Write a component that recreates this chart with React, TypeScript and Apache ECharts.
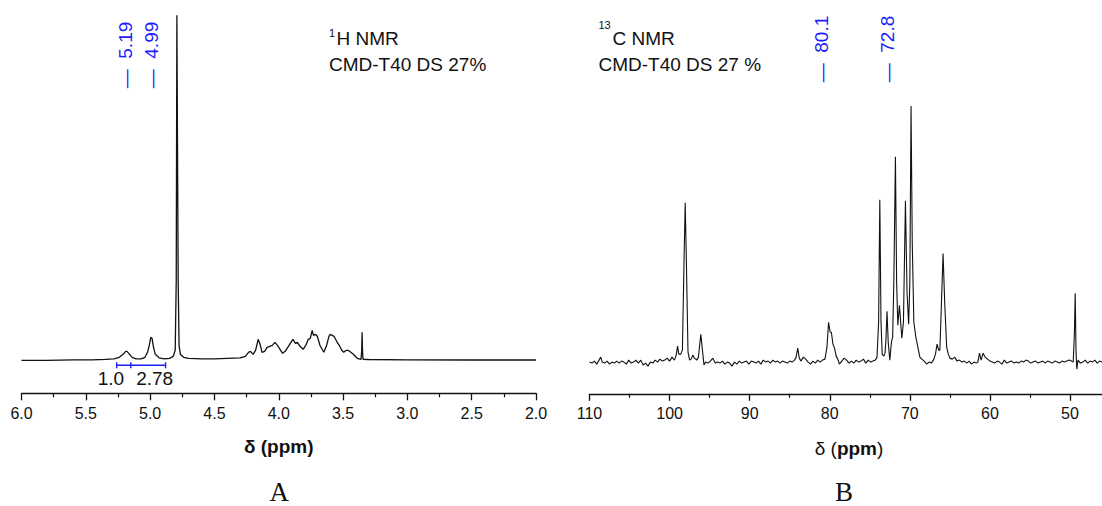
import React, { useEffect, useRef } from "react";
import * as echarts from "echarts";

// ---------- 1H NMR spectrum (panel A) ----------
const hPpm = [
  6.0, 5.8, 5.6, 5.45, 5.35, 5.28, 5.24, 5.21, 5.19, 5.18, 5.16, 5.14, 5.11, 5.07, 5.04, 5.02, 5.005, 4.995,
  4.985, 4.975, 4.96, 4.93, 4.89, 4.85, 4.82, 4.805, 4.797, 4.792, 4.787, 4.782, 4.775, 4.765, 4.74, 4.7,
  4.6, 4.5, 4.4, 4.3, 4.26, 4.235, 4.22, 4.2, 4.18, 4.16, 4.145, 4.13, 4.11, 4.09, 4.07, 4.05, 4.03, 4.01,
  3.99, 3.97, 3.95, 3.93, 3.91, 3.89, 3.87, 3.855, 3.835, 3.81, 3.79, 3.77, 3.755, 3.74, 3.73, 3.715, 3.7,
  3.68, 3.65, 3.63, 3.61, 3.6, 3.585, 3.57, 3.55, 3.53, 3.51, 3.495, 3.475, 3.46, 3.44, 3.42, 3.39, 3.36,
  3.355, 3.352, 3.349, 3.345, 3.3, 3.0, 2.5, 2.0,
];
const hInt = [
  0, 0, 0.5, 0.5, 1, 1.5, 3, 6, 9, 9, 6, 3, 1.5, 1.5, 3, 8, 16, 23,
  22, 14, 6, 2.5, 1.5, 2, 4, 10, 80, 345, 345, 80, 15, 6, 3, 2,
  1.5, 1.5, 2, 2.5, 4, 8, 9, 6, 10, 21, 16, 8, 9, 13, 14, 15, 18, 15,
  11, 7, 9, 13, 17, 21, 17, 18, 14, 11, 15, 21, 22, 30, 25, 26, 24,
  15, 8, 14, 24, 26, 25, 24, 19, 15, 10, 8, 10, 10, 8, 6, 2, 1,
  10, 28, 10, 1, 0.8, 0.5, 0.3, 0.3,
];

// ---------- 13C NMR spectrum (panel B) ----------
const cPpm = [
  110.0, 109.7, 109.4, 109.1, 108.8, 108.6, 108.4, 108.1, 107.8, 107.5, 107.2, 106.9, 106.6, 106.3, 106.0,
  105.7, 105.4, 105.1, 104.8, 104.5, 104.2, 103.9, 103.6, 103.3, 103.0, 102.7, 102.4, 102.1, 101.8, 101.5,
  101.2, 100.9, 100.6, 100.3, 100.0, 99.7, 99.4, 99.2, 99.0, 98.85, 98.6, 98.4, 98.2, 98.05, 97.9, 97.7,
  97.5, 97.3, 97.1, 96.9, 96.6, 96.4, 96.1, 95.9, 95.7, 95.5, 95.2, 94.9, 94.6, 94.3, 94.0, 93.7, 93.4,
  93.1, 92.8, 92.5, 92.2, 91.9, 91.6, 91.3, 91.0, 90.7, 90.4, 90.1, 89.8, 89.5, 89.2, 88.9, 88.6, 88.3,
  88.0, 87.7, 87.4, 87.1, 86.8, 86.5, 86.2, 85.9, 85.6, 85.3, 85.0, 84.7, 84.4, 84.2, 84.0, 83.8, 83.6,
  83.3, 83.0, 82.7, 82.4, 82.1, 81.8, 81.5, 81.2, 80.9, 80.6, 80.35, 80.15, 79.95, 79.8, 79.6, 79.4, 79.2,
  79.0, 78.8, 78.5, 78.2, 77.9, 77.6, 77.3, 77.0, 76.7, 76.4, 76.1, 75.8, 75.5, 75.2, 74.9, 74.6, 74.3,
  74.1, 73.9, 73.75, 73.6, 73.45, 73.25, 73.1, 73.0, 72.85, 72.7, 72.5, 72.3, 72.15, 72.0, 71.8, 71.65,
  71.5, 71.3, 71.0, 70.8, 70.55, 70.35, 70.15, 70.0, 69.85, 69.7, 69.5, 69.25, 69.0, 68.75, 68.5, 68.2,
  67.9, 67.6, 67.3, 67.0, 66.8, 66.6, 66.4, 66.25, 66.05, 65.85, 65.65, 65.4, 65.2, 65.0, 64.7, 64.4,
  64.1, 63.8, 63.5, 63.2, 62.9, 62.6, 62.3, 62.0, 61.7, 61.5, 61.3, 61.1, 60.85, 60.6, 60.3, 60.0, 59.7,
  59.4, 59.1, 58.8, 58.5, 58.2, 57.9, 57.6, 57.3, 57.0, 56.7, 56.4, 56.1, 55.8, 55.5, 55.2, 54.9, 54.6,
  54.3, 54.0, 53.7, 53.4, 53.1, 52.8, 52.5, 52.2, 51.9, 51.6, 51.3, 51.0, 50.7, 50.4, 50.1, 49.8, 49.6,
  49.45, 49.35, 49.25, 49.15, 49.0, 48.7, 48.4, 48.1, 47.8, 47.5, 47.2, 46.9, 46.6, 46.3, 46.0, 45.7,
];
const cInt = [
  0, -1, 1, -2, 2, 5, 0, -1, 1, -2, 0, -1, 1, -1, 1,
  0, -2, 2, -1, 0, 2, -1, 2, -3, -1, -4, 0, -1, 2, 0,
  3, 1, 2, 4, 1, 5, 2, 6, 16, 8, 8, 12, 100, 160, 100, 10,
  2, 3, 7, 4, 2, 5, 28, 12, -3, 0, -1, 1, 4, -1, 0, -1, 1,
  -2, 0, -1, -4, 0, -2, 1, -1, 0, 1, -2, 1, 0, -1, 1, -2, 2,
  0, 1, -1, 2, 0, 1, -1, 1, 0, -1, 1, 0, 2, 5, 14, 4, 1,
  5, 3, 0, -2, 1, -1, 2, 0, 2, 3, 15, 40, 30, 30, 18, 14, 6,
  3, -2, 1, 4, 2, -1, 1, -1, 2, 0, 1, 3, -1, 2, 0, 1, 2,
  5, 40, 163, 40, 8, 6, 9, 20, 51, 20, 2, 20, 25, 80, 206, 80,
  37, 57, 24, 40, 162, 70, 38, 80, 257, 120, 40, 25, 15, 5, 3, 1,
  -2, 0, -1, 3, 8, 18, 12, 12, 60, 109, 60, 15, 8, 4, 3, 5,
  1, 2, 0, 1, -1, 1, -2, 0, -1, 0, 9, 2, 9, 5, 3, 1, 0,
  -1, 1, 0, -2, 2, -1, 0, 1, -1, 0, -1, 1, 0, 2, 1, -1, 0,
  1, -1, 0, 1, -1, 1, 0, -1, 1, 0, -1, 1, 0, 1, 2, 1, 0,
  30, 69, 10, -7, 2, -1, 0, 2, -1, 1, 0, 2, -1, 1, 0, 1,
];

// ---------- annotations ----------
const hPeakLabels = [5.19, 4.99];
const cPeakLabels = [80.1, 72.8];
const hIntegralEdges = [5.26, 5.15, 4.88];
const hIntegralValues = ["1.0", "2.78"];
const panelLetters = ["A", "B"];
const hTitle = ["1", "H NMR", "CMD-T40 DS 27%"];
const cTitle = ["13", "C NMR", "CMD-T40 DS 27 %"];

const SANS = '"Liberation Sans", Arial, sans-serif';
const SERIF = '"Liberation Serif", "Times New Roman", serif';
const BLUE = "#1c1cff";
const INK = "#111111";

function zip(a: number[], b: number[]) {
  return a.map((v, i) => [v, b[i]]);
}

export default function App() {
  const ref = useRef<HTMLDivElement>(null);

  useEffect(() => {
    document.body.style.margin = "0";
    if (!ref.current) return;
    const chart = echarts.init(ref.current, undefined, { renderer: "svg" });

    const axisCommon = {
      type: "value" as const,
      inverse: true,
      splitLine: { show: false },
      axisLine: { show: true, onZero: false, lineStyle: { color: INK, width: 1.4 } },
      axisTick: { show: true, inside: false, length: 7, lineStyle: { color: INK, width: 1.3 } },
      minorTick: { show: true, splitNumber: 2, length: 4, lineStyle: { color: INK, width: 1.2 } },
      minorSplitLine: { show: false },
      axisLabel: {
        show: true,
        color: INK,
        fontSize: 16,
        fontFamily: SANS,
        margin: 12,
        showMinLabel: true,
        showMaxLabel: true,
        hideOverlap: false,
      },
    };

    chart.setOption({
      animation: false,
      backgroundColor: "#ffffff",
      textStyle: { fontFamily: SANS },
      grid: [
        { left: 21.5, top: 15.3, width: 514.5, height: 378, outerBoundsMode: "none", containLabel: false },
        { left: 589.5, top: 105, width: 560.6, height: 288.8, outerBoundsMode: "none", containLabel: false },
      ],
      xAxis: [
        {
          ...axisCommon,
          gridIndex: 0,
          min: 2,
          max: 6,
          interval: 0.5,
          axisLabel: { ...axisCommon.axisLabel, formatter: (v: number) => v.toFixed(1) },
        },
        {
          ...axisCommon,
          gridIndex: 1,
          min: 40,
          max: 110,
          interval: 10,
          axisLabel: {
            ...axisCommon.axisLabel,
            formatter: (v: number) => (v < 45 ? "" : String(Math.round(v))),
          },
        },
      ],
      yAxis: [
        { type: "value", gridIndex: 0, min: -33, max: 345, show: false, splitLine: { show: false } },
        { type: "value", gridIndex: 1, min: -31.8, max: 258, show: false, splitLine: { show: false } },
      ],
      series: [
        {
          type: "line",
          xAxisIndex: 0,
          yAxisIndex: 0,
          data: zip(hPpm, hInt),
          showSymbol: false,
          symbol: "none",
          lineStyle: { color: INK, width: 1.3 },
          silent: true,
        },
        {
          type: "line",
          xAxisIndex: 1,
          yAxisIndex: 1,
          data: zip(cPpm, cInt),
          showSymbol: false,
          symbol: "none",
          lineStyle: { color: INK, width: 1.1 },
          silent: true,
        },
      ],
    });

    const px0 = (v: number) => chart.convertToPixel({ xAxisIndex: 0 }, v) as number;
    const px1 = (v: number) => chart.convertToPixel({ xAxisIndex: 1 }, v) as number;
    const py0 = (v: number) => chart.convertToPixel({ yAxisIndex: 0 }, v) as number;

    const g: any[] = [];
    const rotatedLabel = (x: number, y: number, txt: string) => ({
      type: "text",
      x,
      y,
      rotation: Math.PI / 2,
      silent: true,
      style: {
        text: "\u2014\u00a0\u00a0" + txt,
        fill: BLUE,
        fontSize: 19,
        fontFamily: SANS,
        align: "center",
        verticalAlign: "middle",
      },
    });
    hPeakLabels.forEach((v) => g.push(rotatedLabel(px0(v), 55, v.toFixed(2))));
    const cOffsets = [-7, 0];
    cPeakLabels.forEach((v, i) => g.push(rotatedLabel(px1(v) + cOffsets[i], 49, v.toFixed(1))));

    // integration bar
    const yBar = py0(-5);
    const xs = hIntegralEdges.map(px0);
    g.push({
      type: "line",
      silent: true,
      shape: { x1: xs[0], y1: yBar, x2: xs[xs.length - 1], y2: yBar },
      style: { stroke: BLUE, lineWidth: 1.4 },
    });
    xs.forEach((x) =>
      g.push({
        type: "line",
        silent: true,
        shape: { x1: x, y1: yBar - 3, x2: x, y2: yBar + 3 },
        style: { stroke: BLUE, lineWidth: 1.4 },
      })
    );
    const intLabelPos = [5.305, 4.965];
    hIntegralValues.forEach((t, i) =>
      g.push({
        type: "text",
        x: px0(intLabelPos[i]),
        y: 378,
        silent: true,
        style: { text: t, fill: INK, fontSize: 19, fontFamily: SANS, align: "center", verticalAlign: "middle" },
      })
    );

    // titles
    const titleBlock = (x: number, supX: number, t: string[], supY: number) => [
      {
        type: "text",
        x: supX,
        y: supY,
        silent: true,
        style: { text: t[0], fill: INK, fontSize: 11, fontFamily: SANS, align: "left", verticalAlign: "top" },
      },
      {
        type: "text",
        x,
        y: 38.5,
        silent: true,
        style: { text: t[1], fill: INK, fontSize: 19, fontFamily: SANS, align: "left", verticalAlign: "middle" },
      },
      {
        type: "text",
        x: supX,
        y: 64,
        silent: true,
        style: { text: t[2], fill: INK, fontSize: 19, fontFamily: SANS, align: "left", verticalAlign: "middle" },
      },
    ];
    g.push(...titleBlock(336.5, 329, hTitle, 27));
    g.push(...titleBlock(612.5, 598.5, cTitle, 19));

    // axis titles
    g.push({
      type: "text",
      x: 278.7,
      y: 446.7,
      silent: true,
      style: {
        text: "\u03b4 (ppm)",
        fill: INK,
        fontSize: 19,
        fontWeight: "bold",
        fontFamily: SANS,
        align: "center",
        verticalAlign: "middle",
      },
    });
    g.push({
      type: "text",
      x: 849,
      y: 448,
      silent: true,
      style: {
        text: "{r|\u03b4 (}{b|ppm}{r|)}",
        align: "center",
        verticalAlign: "middle",
        rich: {
          r: { fontSize: 19, fontFamily: SANS, fill: INK, color: INK },
          b: { fontSize: 19, fontFamily: SANS, fontWeight: "bold", fill: INK, color: INK },
        },
      },
    });

    // panel letters
    const letterX = [279.3, 844];
    panelLetters.forEach((L, i) =>
      g.push({
        type: "text",
        x: letterX[i],
        y: 491.5,
        silent: true,
        style: { text: L, fill: INK, fontSize: 27, fontFamily: SERIF, align: "center", verticalAlign: "middle" },
      })
    );

    chart.setOption({ graphic: g });

    return () => {
      chart.dispose();
    };
  }, []);

  return <div ref={ref} style={{ width: 1102, height: 506 }} />;
}
